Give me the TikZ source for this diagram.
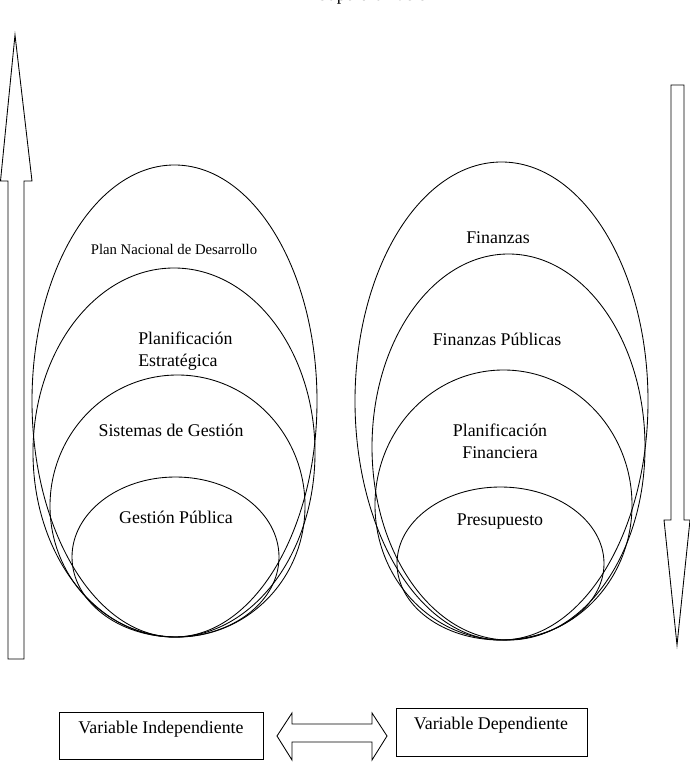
\documentclass[tikz,border=0pt]{standalone}
\usepackage{fontspec}
\setmainfont{Liberation Serif}
\usetikzlibrary{shapes.geometric}
\tikzset{
  ln/.style={line width=0.6pt,draw=black,line join=miter},
  ell/.style={ln,ellipse,inner sep=0pt},
  lbl/.style={font=\fontsize{12.5}{15}\selectfont,inner sep=0pt,align=center},
  small/.style={font=\fontsize{10.3}{12}\selectfont,inner sep=0pt},
  varbox/.style={ln,rectangle,inner sep=0pt}
}
\begin{document}
\begin{tikzpicture}[x=0.7pt,y=-0.7pt]
\useasboundingbox (0,0) rectangle (689,770);
% top title, cut off at the page edge as in the reference
\node[lbl,anchor=base] (title) at (377,1) {Superordinación};
% up arrow (left)
\draw[ln] (8,659) -- (8,181) -- (0.5,181) -- (15,35) -- (32,181) -- (24,181) -- (24,659) -- cycle;
% down arrow (right)
\draw[ln] (671,85) -- (684,85) -- (684,520) -- (690,520) -- (677,645) -- (664,520) -- (671,520) -- cycle;
% left ellipses
\node[ell,minimum width=285*0.7pt,minimum height=472*0.7pt] (l1) at (174.5,401) {};
\node[ell,minimum width=282*0.7pt,minimum height=369*0.7pt] (l2) at (174,452.5) {};
\node[ell,minimum width=255*0.7pt,minimum height=262*0.7pt] (l3) at (177.5,506) {};
\node[ell,minimum width=207*0.7pt,minimum height=160*0.7pt] (l4) at (175.5,557) {};
\node[small] (t1) at (174,249) {Plan Nacional de Desarrollo};
\node[lbl,align=left,anchor=west] (t2) at (138,351) {Planificación\\Estratégica};
\node[lbl] (t3) at (171,430) {Sistemas de Gestión};
\node[lbl] (t4) at (176,517) {Gestión Pública};
% right ellipses
\node[ell,minimum width=293*0.7pt,minimum height=478*0.7pt] (r1) at (501.5,401) {};
\node[ell,minimum width=273*0.7pt,minimum height=386*0.7pt] (r2) at (508.5,447) {};
\node[ell,minimum width=257*0.7pt,minimum height=270*0.7pt] (r3) at (503.5,505) {};
\node[ell,minimum width=207*0.7pt,minimum height=153*0.7pt] (r4) at (500.5,563.5) {};
\node[lbl] (s1) at (498,238) {Finanzas};
\node[lbl] (s2) at (497,339) {Finanzas Públicas};
\node[lbl] (s3) at (500,441.5) {Planificación\\Financiera};
\node[lbl] (s4) at (500,522) {Presupuesto};
% bottom boxes
\node[varbox,minimum width=204*0.7pt,minimum height=47*0.7pt] (vi) at (161,735.5) {};
\node[lbl] (vit) at (161,729) {Variable Independiente};
\node[varbox,minimum width=191*0.7pt,minimum height=48*0.7pt] (vd) at (491.5,732) {};
\node[lbl] (vdt) at (491,725) {Variable Dependiente};
% double arrow
\draw[ln] (277,736) -- (292,713) -- (292,724) -- (372,724) -- (372,713) -- (387,736) -- (372,760) -- (372,742) -- (292,742) -- (292,760) -- cycle;
\end{tikzpicture}
\end{document}
